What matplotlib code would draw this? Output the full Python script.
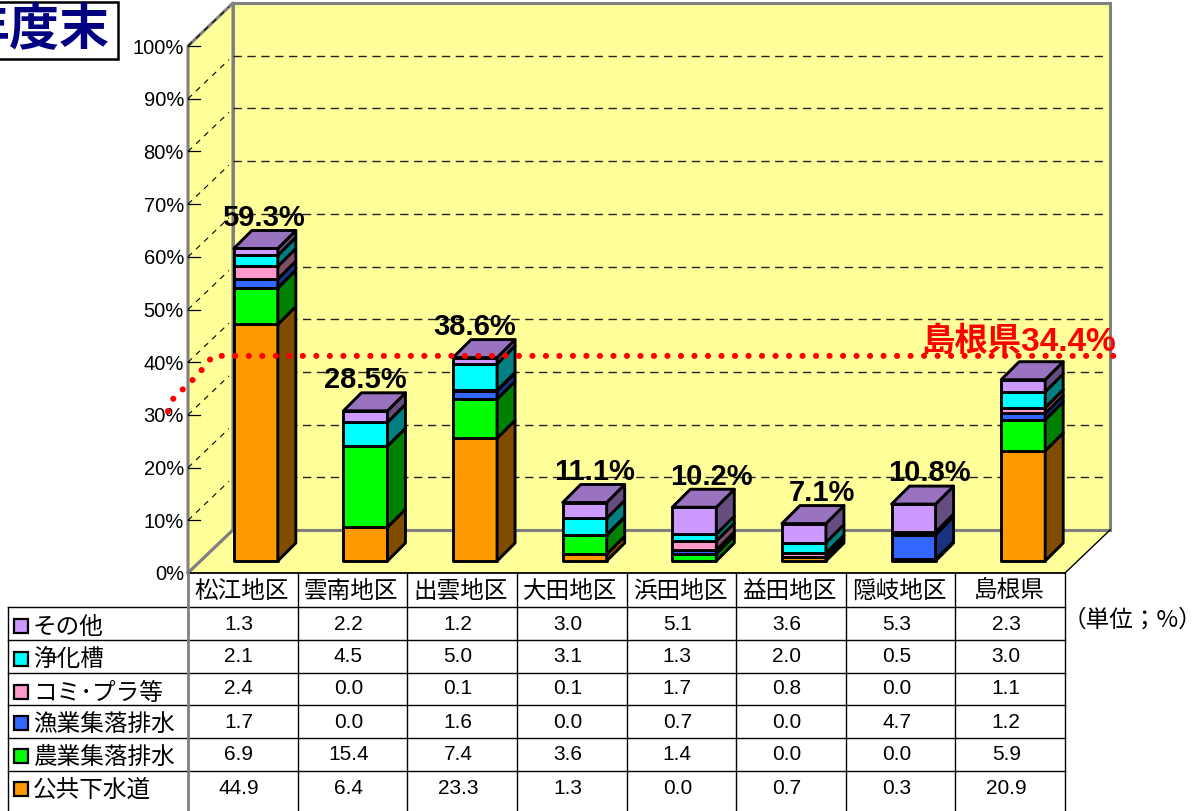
import matplotlib
matplotlib.use("Agg")
import matplotlib.pyplot as plt
from matplotlib.patches import Polygon, Rectangle

plt.rcParams['font.family'] = ['Liberation Sans', 'Noto Sans CJK JP', 'DejaVu Sans']

# data, bottom of the stack first
categories = ['松江地区', '雲南地区', '出雲地区', '大田地区', '浜田地区', '益田地区', '隠岐地区', '島根県']
series_names = ['公共下水道', '農業集落排水', '漁業集落排水', 'コミ･プラ等', '浄化槽', 'その他']
sewer = [44.9, 6.4, 23.3, 1.3, 0.0, 0.7, 0.3, 20.9]
farm = [6.9, 15.4, 7.4, 3.6, 1.4, 0.0, 0.0, 5.9]
fishery = [1.7, 0.0, 1.6, 0.0, 0.7, 0.0, 4.7, 1.2]
community = [2.4, 0.0, 0.1, 0.1, 1.7, 0.8, 0.0, 1.1]
septic = [2.1, 4.5, 5.0, 3.1, 1.3, 2.0, 0.5, 3.0]
other = [1.3, 2.2, 1.2, 3.0, 5.1, 3.6, 5.3, 2.3]
totals = [59.3, 28.5, 38.6, 11.1, 10.2, 7.1, 10.8, 34.4]
pref_rate = 34.4
y_ticks = [0, 10, 20, 30, 40, 50, 60, 70, 80, 90, 100]

series = [sewer, farm, fishery, community, septic, other]
front_colors = ['#FF9900', '#00FF00', '#3366FF', '#FF99CC', '#00FFFF', '#CC99FF']
side_colors = ['#804D00', '#008000', '#1A3380', '#804D66', '#008080', '#664D80']
top_colors = ['#BF7300', '#00BF00', '#264DBF', '#BF7399', '#00BFBF', '#9973BF']
WALL = '#FFFF99'
GRAY = '#808080'

W, H = 1203, 811
fig = plt.figure(figsize=(W / 100, H / 100), dpi=100)

# chart axes: x = category slots, y = percent
X0, X1, Y0, Y1 = 188, 1065, 573, 46
ax = fig.add_axes([X0 / W, 1 - Y0 / H, (X1 - X0) / W, (Y0 - Y1) / H])
ax.set_xlim(0, 8)
ax.set_ylim(0, 100)
ax.axis('off')
px = 8 / (X1 - X0)
py = 100 / (Y0 - Y1)

wall_dx, wall_dy = 45 * px, 43 * py
ax.add_patch(Polygon([(0, 0), (wall_dx, wall_dy), (wall_dx, 100 + wall_dy), (0, 100)],
                     fc=WALL, ec=GRAY, lw=2.2, clip_on=False, zorder=1, joinstyle='round'))
ax.add_patch(Rectangle((wall_dx, wall_dy), 8, 100, fc=WALL, ec=GRAY, lw=2.2, clip_on=False, zorder=1))
ax.add_patch(Polygon([(0, 0), (8, 0), (8 + wall_dx, wall_dy), (wall_dx, wall_dy)],
                     fc=WALL, ec='none', clip_on=False, zorder=1.1))
ax.plot([wall_dx, 8 + wall_dx], [wall_dy, wall_dy], color=GRAY, lw=2.2, clip_on=False, zorder=1.2)
ax.plot([0, wall_dx], [0, wall_dy], color=GRAY, lw=2.2, clip_on=False, zorder=1.2)
ax.plot([8, 8 + wall_dx], [0, wall_dy], color='black', lw=1, clip_on=False, zorder=1.2)
ax.plot([0, 8], [0, 0], color='black', lw=1.3, clip_on=False, zorder=1.2)

# gridlines on the walls
for t in y_ticks[1:]:
    if t < 100:
        ax.plot([wall_dx, 8 + wall_dx - 5 * px], [t + wall_dy, t + wall_dy], color='#222222', lw=1,
                dashes=(6, 4), clip_on=False, zorder=1.3)
    ax.plot([0, wall_dx - 4 * px], [t, t + wall_dy - 4 * py], color='black', lw=0.8,
            dashes=(5, 5), clip_on=False, zorder=1.3)
    ax.plot([0, 12 * px], [t, t], color='black', lw=0.9, clip_on=False, zorder=1.3)
for t in y_ticks:
    ax.text(-4 * px, t, f'{t}%', ha='right', va='center_baseline', fontsize=14.5, color='black', clip_on=False)

# 3d stacked bars
bar_w, bar_dx, bar_dy = 44 * px, 18 * px, 18 * py
shift_x, base = 13 * px, 12 * py
EDGE = dict(ec='black', lw=2.1, joinstyle='round', clip_on=False)
for i in range(len(categories)):
    left = i + 0.5 + shift_x - bar_w / 2
    right = left + bar_w
    b = base
    last = 0
    for k, vals in enumerate(series):
        v = vals[i]
        if v == 0:
            continue
        ax.add_patch(Rectangle((left, b), bar_w, v, fc=front_colors[k], zorder=3, **EDGE))
        ax.add_patch(Polygon([(right, b), (right + bar_dx, b + bar_dy), (right + bar_dx, b + v + bar_dy),
                              (right, b + v)], fc=side_colors[k], zorder=3, **EDGE))
        b += v
        last = k
    ax.add_patch(Polygon([(left, b), (right, b), (right + bar_dx, b + bar_dy), (left + bar_dx, b + bar_dy)],
                         fc=top_colors[last], zorder=3, **EDGE))

# total labels
label_dx = [8, 0, 0, 10, 17, 18, 16]
for i, t in enumerate(totals[:-1]):
    ax.text(i + 0.5 + shift_x + label_dx[i] * px, base + sum(s[i] for s in series) + 6.4, f'{t}%',
            ha='center', va='center_baseline', fontsize=21, fontweight='bold', color='black', zorder=5, clip_on=False)

# prefecture average, hand drawn dotted line in the original
line_y = pref_rate + 6.8
ax.plot([-20 * px, -14 * px, 0, 11 * px, 25 * px, 8.485], [pref_rate - 3.7, pref_rate - 1, pref_rate + 1.3,
        pref_rate + 3.5, line_y, line_y], color='red', lw=4.4, dashes=(0.01, 2.2), dash_capstyle='round',
        clip_on=False, zorder=6)
ax.text(7.58, line_y + 2.6, f'島根県{pref_rate}%', ha='center', va='center', fontsize=24,
        fontweight='bold', color='red', zorder=5, clip_on=False)

# table and title live on a pixel overlay
tb = fig.add_axes([0, 0, 1, 1])
tb.set_xlim(0, W)
tb.set_ylim(H, 0)
tb.axis('off')
tb.patch.set_alpha(0)

col_w = (X1 - X0) / 8
row_edges = [607, 640, 673, 705, 738, 771]
row_labels = series_names[::-1]
row_swatch = [626, 659, 692, 723, 756, 789]
row_text = [622, 655, 687, 720, 753, 786]

for y in row_edges:
    tb.plot([8, X1], [y, y], color='black', lw=1)
tb.plot([8, 8], [607, H], color='black', lw=1)
tb.plot([X0, X0], [573, H], color=GRAY, lw=2)
for c in range(1, 9):
    tb.plot([X0 + c * col_w] * 2, [573, H], color='black', lw=1)

JP = ['Noto Sans CJK JP', 'DejaVu Sans']
for i, name in enumerate(categories):
    tb.text(X0 + (i + 0.5) * col_w - 1, 591, name, ha='center', va='center', fontsize=17, family=JP)

for r, k in enumerate(range(5, -1, -1)):
    tb.add_patch(Rectangle((13.5, row_swatch[r] - 7), 14, 14, fc=front_colors[k], ec='black', lw=1.6))
    tb.text(33, row_swatch[r] + 1, row_labels[r], ha='left', va='center', fontsize=17, family=JP)
    for i, v in enumerate(series[k]):
        tb.text(X0 + (i + 0.5) * col_w - 4, row_text[r], f'{v:.1f}', ha='center', va='center_baseline', fontsize=15)

tb.text(1132, 620, '（単位；%）', ha='center', va='center', fontsize=17, family=JP)

tb.add_patch(Rectangle((-6, 2), 124, 57, fc='white', ec='black', lw=1.8))
tb.text(109, 31, '年度末', ha='right', va='center', fontsize=36, fontweight='bold', color='#000080', family=JP)

fig.savefig('out.png', dpi=100)
